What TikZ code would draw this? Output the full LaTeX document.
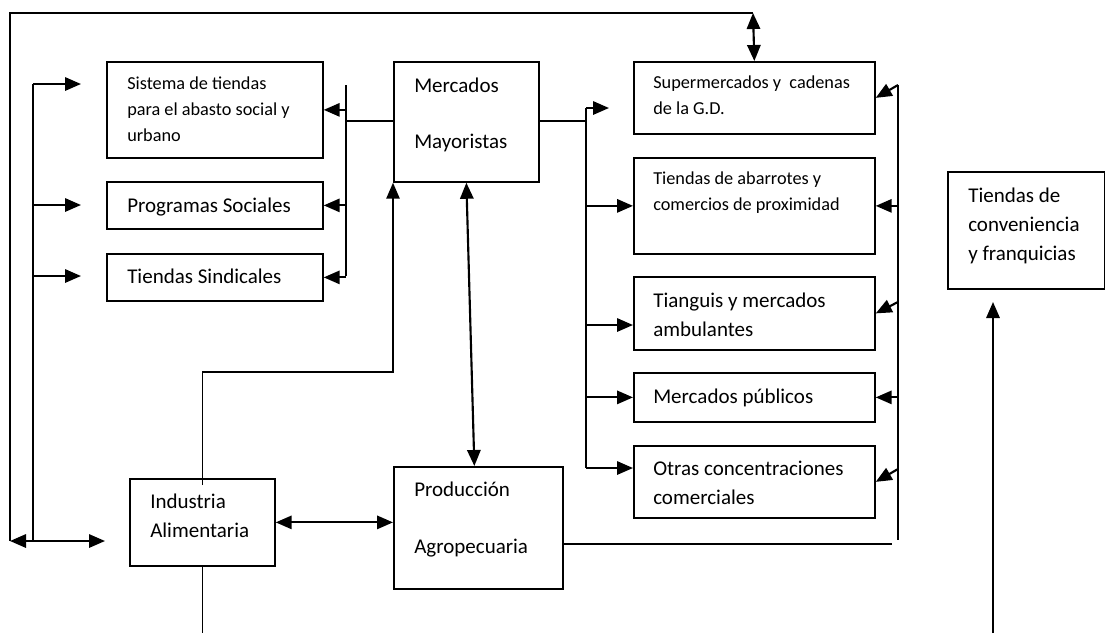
\documentclass[tikz,border=0pt]{standalone}
\usepackage{fontspec}
\setmainfont{Carlito}
\usetikzlibrary{arrows.meta,calc}
\begin{document}
\begin{tikzpicture}[x=0.75pt,y=-0.75pt,
 box/.style={draw, line width=1.3pt, inner sep=0pt, anchor=north west},
 lbl/.style={anchor=base west, inner sep=0pt, font=\fontsize{15.75}{18}\selectfont},
 slbl/.style={anchor=base west, inner sep=0pt, font=\fontsize{13.7}{16}\selectfont},
 conn/.style={line width=1.1pt},
 arr/.style={line width=1.6pt, -{Triangle[length=12pt,width=10pt]}},
 darr/.style={line width=1.6pt, {Triangle[length=12pt,width=10pt]}-{Triangle[length=12pt,width=10pt]}},
]
\useasboundingbox (0,0) rectangle (1105,633);

% boxes
\node[box, minimum width=216*0.75pt, minimum height=96*0.75pt] (sis) at (106,61) {};
\node[box, minimum width=216*0.75pt, minimum height=47*0.75pt] (prog) at (106,181) {};
\node[box, minimum width=216*0.75pt, minimum height=47*0.75pt] (sind) at (106,253) {};
\node[box, minimum width=145*0.75pt, minimum height=120*0.75pt] (merc) at (393,61) {};
\node[box, minimum width=241*0.75pt, minimum height=72*0.75pt] (sup) at (633,61) {};
\node[box, minimum width=241*0.75pt, minimum height=96*0.75pt] (aba) at (633,157) {};
\node[box, minimum width=241*0.75pt, minimum height=73*0.75pt] (tia) at (633,276) {};
\node[box, minimum width=241*0.75pt, minimum height=49*0.75pt] (mpub) at (633,372) {};
\node[box, minimum width=241*0.75pt, minimum height=72*0.75pt] (otr) at (633,445) {};
\node[box, minimum width=157*0.75pt, minimum height=117*0.75pt] (conv) at (947,171) {};
\node[box, minimum width=145*0.75pt, minimum height=87*0.75pt] (ind) at (129,478) {};
\node[box, minimum width=169*0.75pt, minimum height=122*0.75pt] (prod) at (393,466) {};

% texts
\node[slbl] (sisT1) at (127,89) {Sistema de tiendas};
\node[slbl] (sisT2) at (127,115) {para el abasto social y};
\node[slbl] (sisT3) at (127,141) {urbano};
\node[lbl] (progT) at (127,212) {Programas Sociales};
\node[lbl] (sindT) at (127,283) {Tiendas Sindicales};
\node[lbl] (mercT1) at (414,92) {Mercados};
\node[lbl] (mercT2) at (414,148) {Mayoristas};
\node[slbl] (supT1) at (653,88) {Supermercados y\ \ cadenas};
\node[slbl] (supT2) at (653,114) {de la G.D.};
\node[slbl] (abaT1) at (653,184) {Tiendas de abarrotes y};
\node[slbl] (abaT2) at (653,210) {comercios de proximidad};
\node[lbl] (tiaT1) at (653,307) {Tianguis y mercados};
\node[lbl] (tiaT2) at (653,336) {ambulantes};
\node[lbl] (mpubT) at (653,403) {Mercados públicos};
\node[lbl] (otrT1) at (653,475) {Otras concentraciones};
\node[lbl] (otrT2) at (653,504) {comerciales};
\node[lbl] (convT1) at (968,202) {Tiendas de};
\node[lbl] (convT2) at (968,231) {conveniencia};
\node[lbl] (convT3) at (968,260) {y franquicias};
\node[lbl] (indT1) at (150,508) {Industria};
\node[lbl] (indT2) at (150,537) {Alimentaria};
\node[lbl] (prodT1) at (414,496) {Producción};
\node[lbl] (prodT2) at (414,553) {Agropecuaria};

% coordinates
\coordinate (tl) at (10,13);
\coordinate (bl) at (10,541);
\coordinate (blr) at (105,541);
\coordinate (topj) at (753,13);
\coordinate (lb1) at (33,84);
\coordinate (lb2) at (33,205);
\coordinate (lb3) at (33,276);
\coordinate (lb4) at (33,541);
\coordinate (la1) at (81,84);
\coordinate (la2) at (81,205);
\coordinate (la3) at (81,276);
\coordinate (mb0) at (346,121);
\coordinate (mb1) at (346,85);
\coordinate (mb2) at (346,276);
\coordinate (rb0) at (586,121);
\coordinate (rb1) at (586,108);
\coordinate (rb2) at (586,468);
\coordinate (rb3) at (586,325);
\coordinate (supgap) at (609,108);
\coordinate (sb1) at (898,85);
\coordinate (sb2) at (898,540);
\coordinate (sb3) at (898,302);
\coordinate (sb4) at (898,469);
\coordinate (pr) at (892,544);
\coordinate (ij) at (202,372);
\coordinate (ib) at (202,633);
\coordinate (cb) at (993,633);
\coordinate (ct) at (993,302);

% outer loop
\draw[conn] (topj) -- (tl) -- (bl);
\draw[darr] (topj) -- (sup.north);
\draw[darr] (bl) -- (blr);
\draw[conn] (lb1) -- (lb4);
\draw[arr] (lb1) -- (la1);
\draw[arr] (lb2) -- (la2);
\draw[arr] (lb3) -- (la3);

% left bus from Mercados
\draw[conn] (merc.west |- mb0) -- (mb0);
\draw[conn] (mb1) -- (mb2);
\draw[arr] (sis.east -| mb1) -- (sis.east);
\draw[arr] (prog.east -| mb1) -- (prog.east);
\draw[arr] (sind.east -| mb1) -- (sind.east);

% right bus from Mercados
\draw[conn] (merc.east |- rb0) -- (rb0);
\draw[conn] (rb1) -- (rb2);
\draw[arr] (rb1) -- (supgap);
\draw[arr] (aba.west -| rb1) -- (aba.west);
\draw[arr] (rb3) -- (tia.west |- rb3);
\draw[arr] (mpub.west -| rb1) -- (mpub.west);
\draw[arr] (rb2) -- (otr.west |- rb2);

% far right bus
\draw[conn] (sb1) -- (sb2);
\draw[arr] (sb1) -- (sup.east);
\draw[arr] (aba.east -| sb1) -- (aba.east);
\draw[arr] (sb3) -- (tia.east);
\draw[arr] (mpub.east -| sb1) -- (mpub.east);
\draw[arr] (sb4) -- (otr.east);

% Produccion
\draw[conn] (pr -| prod.east) -- (pr);
\draw[darr] (merc.south) -- ($(prod.north)+(-4,0)$);
\draw[darr] (ind.east) -- (ind.east -| prod.west);

% Industria
\draw[line width=1.3pt, -{Triangle[length=12pt,width=10pt]}] ($(ind.north)+(0,7)$) -- (ind.north |- ij) -- (merc.south west |- ij) -- (merc.south west);
\draw[conn] (ind.south) -- (ind.south |- ib);

% Conveniencia
\draw[arr] (cb) -- (ct);
\end{tikzpicture}
\end{document}
